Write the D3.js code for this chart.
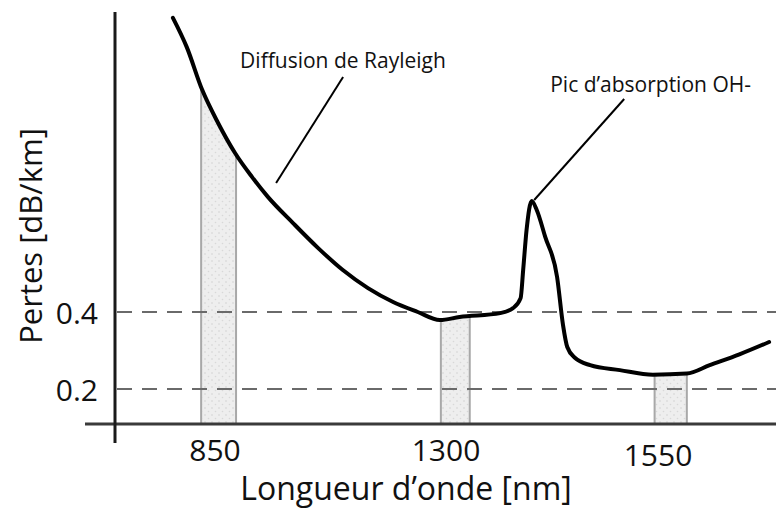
<!DOCTYPE html>
<html>
<head>
<meta charset="utf-8">
<script src="https://cdn.jsdelivr.net/npm/d3@7"></script>
<style>
  body { margin: 0; background: #fff; }
  svg { display: block; font-family: "Open Sans", "Noto Sans", sans-serif; }
</style>
</head>
<body>
<svg id="chart" width="776" height="508"></svg>
<script>
// attenuation curve
var wavelengths = [768, 795, 825, 856, 889, 922, 953, 1002, 1051, 1099, 1148, 1197, 1245, 1288,
                   1316, 1364, 1379, 1388, 1391, 1395, 1401, 1407, 1417, 1431, 1438, 1443, 1452,
                   1470, 1505, 1544, 1584, 1611, 1646, 1681];
var losses = [1.164, 1.088, 0.977, 0.891, 0.813, 0.751, 0.699, 0.631, 0.566, 0.509, 0.462, 0.426, 0.400, 0.379,
              0.387, 0.397, 0.410, 0.436, 0.509, 0.613, 0.688, 0.665, 0.595, 0.491, 0.366, 0.309, 0.281,
              0.262, 0.249, 0.237, 0.240, 0.262, 0.290, 0.322];

var tickNm = [850, 1300, 1550];
var tickLoss = [0.2, 0.4];

// transmission windows
var bandLo = [823, 1290, 1546];
var bandHi = [891, 1328, 1584];

var noteText = ["Diffusion de Rayleigh", "Pic d\u2019absorption OH-"];
var noteNm = [969, 1404];
var noteLoss = [0.735, 0.691];

var svg = d3.select("#chart"),
    W = +svg.attr("width"),
    axisX = 115,
    axisY = 424;

// schematic x axis: not linear in nm
var x = d3.scaleLinear()
    .domain(tickNm)
    .range([215, 446, 658]);

var y = d3.scaleLinear()
    .domain([0.2, 0.4])
    .range([389, 312]);

var pts = wavelengths.map(function(d, i) { return [d, losses[i]]; });

var defs = svg.append("defs");

var pat = defs.append("pattern")
    .attr("id", "dots")
    .attr("patternUnits", "userSpaceOnUse")
    .attr("width", 7)
    .attr("height", 7);
pat.append("rect").attr("width", 7).attr("height", 7).attr("fill", "#eeeeee");
pat.append("circle").attr("cx", 2).attr("cy", 2).attr("r", 0.8).attr("fill", "#d2d2d2");
pat.append("circle").attr("cx", 5.5).attr("cy", 5.5).attr("r", 0.8).attr("fill", "#d8d8d8");

var under = d3.area()
    .x(function(d) { return x(d[0]); })
    .y0(axisY)
    .y1(function(d) { return y(d[1]); })
    .curve(d3.curveMonotoneX);

defs.append("clipPath")
    .attr("id", "under")
  .append("path")
    .attr("d", under(pts));

// bands, cut by the curve
svg.append("g")
    .attr("clip-path", "url(#under)")
  .selectAll("rect")
  .data(bandLo)
  .enter().append("rect")
    .attr("x", function(d) { return x(d); })
    .attr("y", 0)
    .attr("width", function(d, i) { return x(bandHi[i]) - x(d); })
    .attr("height", axisY)
    .attr("fill", "url(#dots)")
    .attr("stroke", "#a8a8a8")
    .attr("stroke-width", 2);

// dashed reference lines
svg.append("g")
  .selectAll("line")
  .data(tickLoss)
  .enter().append("line")
    .attr("x1", axisX + 2)
    .attr("x2", W)
    .attr("y1", function(d) { return y(d); })
    .attr("y2", function(d) { return y(d); })
    .attr("stroke", "#6a6a6a")
    .attr("stroke-width", 2)
    .attr("stroke-dasharray", "15,10");

// axes
svg.append("line")
    .attr("x1", 85).attr("x2", W)
    .attr("y1", axisY).attr("y2", axisY)
    .attr("stroke", "#3a3a3a")
    .attr("stroke-width", 3);

svg.append("line")
    .attr("x1", axisX).attr("x2", axisX)
    .attr("y1", 12).attr("y2", 443)
    .attr("stroke", "#1a1a1a")
    .attr("stroke-width", 3);

svg.append("g")
  .selectAll("text")
  .data(tickLoss)
  .enter().append("text")
    .attr("x", 98)
    .attr("y", function(d) { return y(d) + 12; })
    .attr("text-anchor", "end")
    .attr("font-size", 30)
    .attr("fill", "#111")
    .text(function(d) { return d.toFixed(1); });

svg.append("g")
  .selectAll("text")
  .data(tickNm)
  .enter().append("text")
    .attr("x", function(d) { return x(d); })
    .attr("y", function(d, i) { return i == 2 ? 466 : 461; })
    .attr("text-anchor", "middle")
    .attr("font-size", 30)
    .attr("fill", "#111")
    .text(function(d) { return d; });

svg.append("text")
    .attr("x", 406)
    .attr("y", 500)
    .attr("text-anchor", "middle")
    .attr("font-size", 32)
    .attr("fill", "#111")
    .text("Longueur d\u2019onde [nm]");

svg.append("text")
    .attr("transform", "translate(42,236) rotate(-90)")
    .attr("text-anchor", "middle")
    .attr("font-size", 31)
    .attr("fill", "#111")
    .text("Pertes [dB/km]");

// the curve
var line = d3.line()
    .x(function(d) { return x(d[0]); })
    .y(function(d) { return y(d[1]); })
    .curve(d3.curveMonotoneX);

svg.append("path")
    .attr("d", line(pts))
    .attr("fill", "none")
    .attr("stroke", "#000")
    .attr("stroke-width", 4)
    .attr("stroke-linecap", "round")
    .attr("stroke-linejoin", "round");

// annotations: text offset and leader top, relative to the anchor
var noteLayout = [
  {tx: -36, ty: -115, lx: 67, ly: -106},
  {tx: 16, ty: -108, lx: 90, ly: -101}
];

var notes = svg.append("g")
  .selectAll("g")
  .data(noteText)
  .enter().append("g")
    .attr("transform", function(d, i) {
      return "translate(" + x(noteNm[i]) + "," + y(noteLoss[i]) + ")";
    });

notes.append("line")
    .attr("x1", 0).attr("y1", 0)
    .attr("x2", function(d, i) { return noteLayout[i].lx; })
    .attr("y2", function(d, i) { return noteLayout[i].ly; })
    .attr("stroke", "#000")
    .attr("stroke-width", 2);

notes.append("text")
    .attr("x", function(d, i) { return noteLayout[i].tx; })
    .attr("y", function(d, i) { return noteLayout[i].ty; })
    .attr("font-size", 21)
    .attr("fill", "#111")
    .text(function(d) { return d; });
</script>
</body>
</html>
